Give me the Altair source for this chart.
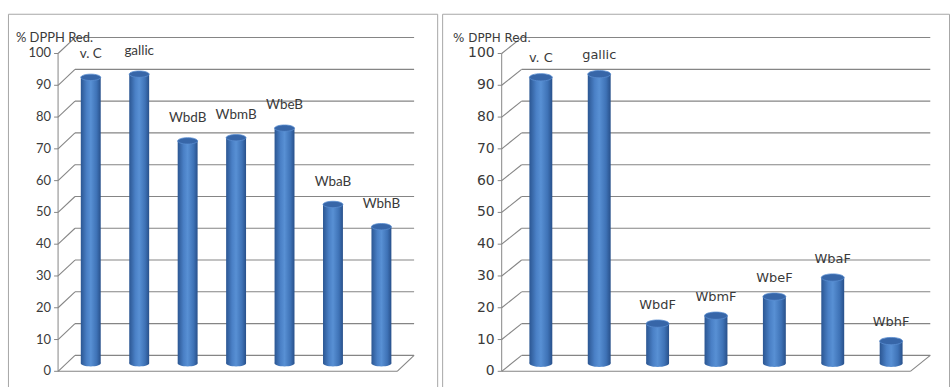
import altair as alt
import pandas as pd

# Radical-scavenging activity (% DPPH reduction) per extract
left_names = ["v. C", "gallic", "WbdB", "WbmB", "WbeB", "WbaB", "WbhB"]
left_values = [90, 91, 70, 71, 74, 50, 43]

right_names = ["v. C", "gallic", "WbdF", "WbmF", "WbeF", "WbaF", "WbhF"]
right_values = [90, 91, 12.5, 15, 21, 27, 7]

y_ticks = list(range(0, 101, 10))
y_title = "% DPPH Red."

GRID = "#858585"
TEXT = "#3a3a3a"
Y_DOMAIN = [-7.5, 110]
HEIGHT = 375

# ellipse used for the caps of the cylinders
ELLIPSE = "M -1 0 A 1 0.32 0 1 1 1 0 A 1 0.32 0 1 1 -1 0 Z"

side_gradient = alt.Gradient(
    gradient="linear",
    x1=0, x2=1, y1=0, y2=0,
    stops=[
        alt.GradientStop(offset=0, color="#2b5692"),
        alt.GradientStop(offset=0.3, color="#4a80c6"),
        alt.GradientStop(offset=0.5, color="#5890d4"),
        alt.GradientStop(offset=0.8, color="#3e72b6"),
        alt.GradientStop(offset=1, color="#28508a"),
    ],
)


def panel(names, values, width, x_domain, bar_w, dx, dy,
          font, tick_size, label_size, title_size, title_x, label_gap):
    bars = pd.DataFrame({"pos": list(range(1, len(names) + 1)),
                         "name": names, "value": values})
    ticks = pd.DataFrame({"t": y_ticks})
    one = pd.DataFrame({"k": [0]})

    xs = alt.Scale(domain=x_domain, nice=False, zero=False)
    ys = alt.Scale(domain=Y_DOMAIN, nice=False, zero=False)

    def X(v):
        return alt.X(datum=v, type="quantitative", scale=xs, axis=None)

    def Y(v):
        return alt.Y(datum=v, type="quantitative", scale=ys, axis=None)

    x_first, x_last = 0.5, len(names) + 0.5

    # back wall gridlines
    back = alt.Chart(ticks).mark_rule(
        color=GRID, strokeWidth=1.1, xOffset=dx / 2, x2Offset=dx / 2, yOffset=-dy / 2
    ).encode(x=X(x_first), x2=alt.X2(datum=x_last),
             y=alt.Y("t:Q", scale=ys, axis=None))

    # side wall diagonals from the axis to the back wall
    side = alt.Chart(ticks).mark_rule(
        color=GRID, strokeWidth=1.1, xOffset=-dx / 2, x2Offset=dx / 2,
        yOffset=dy / 2, y2Offset=-dy / 2
    ).encode(x=X(x_first), x2=alt.X2(datum=x_first),
             y=alt.Y("t:Q", scale=ys, axis=None), y2="t:Q")

    # front vertical axis line
    axis_line = alt.Chart(one).mark_rule(
        color=GRID, strokeWidth=1, xOffset=-dx / 2, yOffset=dy / 2, y2Offset=dy / 2
    ).encode(x=X(x_first), y=Y(0), y2=alt.Y2(datum=100))

    tick_marks = alt.Chart(ticks).mark_rule(
        color=GRID, strokeWidth=1, xOffset=-dx / 2 - 4, x2Offset=-dx / 2, yOffset=dy / 2
    ).encode(x=X(x_first), x2=alt.X2(datum=x_first),
             y=alt.Y("t:Q", scale=ys, axis=None))

    # floor: front edge and right diagonal
    floor_front = alt.Chart(one).mark_rule(
        color=GRID, strokeWidth=1.1, xOffset=-dx / 2, x2Offset=-dx / 2, yOffset=dy / 2
    ).encode(x=X(x_first), x2=alt.X2(datum=x_last), y=Y(0))

    floor_side = alt.Chart(one).mark_rule(
        color=GRID, strokeWidth=1.1, xOffset=-dx / 2, x2Offset=dx / 2,
        yOffset=dy / 2, y2Offset=-dy / 2
    ).encode(x=X(x_last), x2=alt.X2(datum=x_last), y=Y(0), y2=alt.Y2(datum=0))

    tick_labels = alt.Chart(ticks).mark_text(
        align="right", baseline="middle", xOffset=-dx / 2 - 7, yOffset=dy / 2,
        font=font, fontSize=tick_size, color=TEXT
    ).encode(x=X(x_first), y=alt.Y("t:Q", scale=ys, axis=None), text="t:Q")

    title = alt.Chart(one).mark_text(
        align="left", baseline="middle", yOffset=-dy / 2,
        font=font, fontSize=title_size, color=TEXT
    ).encode(x=alt.value(title_x), y=Y(100), text=alt.value(y_title))

    xb = alt.X("pos:Q", scale=xs, axis=None)

    base_cap = alt.Chart(bars).mark_point(
        shape=ELLIPSE, filled=True, fill=side_gradient, opacity=1, strokeWidth=0
    ).encode(x=xb, y=Y(0), size=alt.value(bar_w ** 2))

    body = alt.Chart(bars).mark_bar(width=bar_w, fill=side_gradient).encode(
        x=xb, y=alt.Y("value:Q", scale=ys, axis=None), y2=alt.Y2(datum=0))

    top_cap = alt.Chart(bars).mark_point(
        shape=ELLIPSE, filled=True, fill="#3766a8", stroke="#5a8ed0",
        strokeWidth=0.8, opacity=1
    ).encode(x=xb, y=alt.Y("value:Q", scale=ys, axis=None),
             size=alt.value(bar_w ** 2))

    names_text = alt.Chart(bars).mark_text(
        baseline="bottom", dy=-label_gap, font=font, fontSize=label_size, color=TEXT
    ).encode(x=xb, y=alt.Y("value:Q", scale=ys, axis=None), text="name:N")

    return alt.layer(
        back, side, axis_line, tick_marks, floor_front, floor_side,
        tick_labels, title, base_cap, body, top_cap, names_text
    ).properties(width=width, height=HEIGHT)


narrow = "Lato, Roboto, sans-serif"
wide = "DejaVu Sans, Verdana, sans-serif"

left = panel(left_names, left_values, 431, [-0.6064, 8.048], 20, 17, 16,
             narrow, 13, 13.5, 13, 8, 16)
right = panel(right_names, right_values, 509, [-0.6054, 7.906], 23, 20, 16,
              wide, 14, 13, 12, 11, 12)

chart = alt.hconcat(left, right, spacing=3).properties(
    padding={"left": 7, "top": 12, "right": 0, "bottom": 0},
    background="white",
).configure_view(stroke="#a6a6a6", strokeWidth=1)

chart.save("out.html", embed_options={"renderer": "svg", "actions": False})
